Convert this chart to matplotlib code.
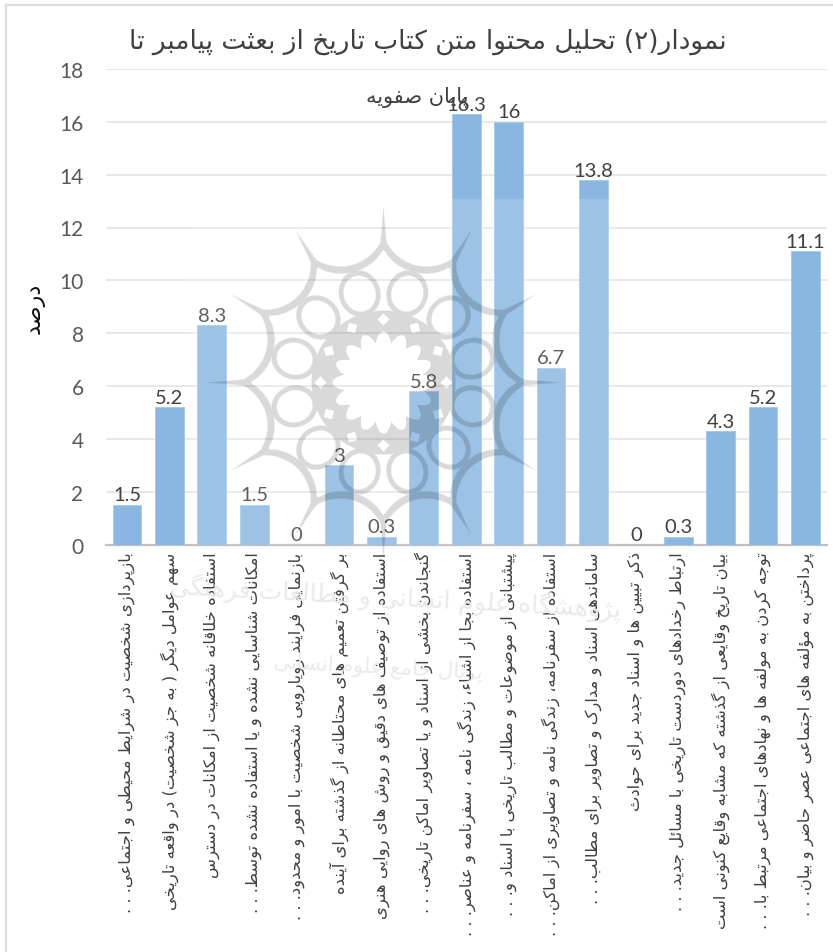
import unicodedata
import numpy as np
import matplotlib
matplotlib.use('Agg')
import matplotlib.pyplot as plt
from matplotlib.patches import Rectangle

plt.rcParams['font.family'] = ['Lato', 'DejaVu Sans']

W, H = 833, 953

title_line1 = 'نمودار(۲) تحلیل محتوا متن کتاب تاریخ از بعثت پیامبر تا'
title_line2 = 'پایان صفویه'
y_title = 'درصد'

categories = [
    'بازپردازی شخصیت در شرایط محیطی و اجتماعی. . .',
    'سهم عوامل دیگر ( به جز شخصیت) در واقعه تاریخی',
    'استفاده خلاقانه شخصیت از امکانات در دسترس',
    'امکانات شناسایی نشده و یا استفاده نشده توسط. . .',
    'بازنمایی فرایند رویارویی شخصیت با امور و محدود. . .',
    'بر گرفتن تعمیم های محتاطانه از گذشته برای آینده',
    'استفاده از توصیف های دقیق و روش های روایی هنری',
    'گنجاندن بخشی از اسناد و یا تصاویر اماکن تاریخی. . .',
    'استفاده بجا از اشیاء، زندگی نامه ، سفرنامه و عناصر. . .',
    'پیشتبانی از موضوعات و مطالب تاریخی با اسناد و. . .',
    'استفاده از سفرنامه، زندگی نامه و تصاویری از اماکن. . .',
    'ساماندهی اسناد و مدارک و تصاویر برای مطالب. . .',
    'ذکر تبیین ها و اسناد جدید برای حوادث',
    'ارتباط رخدادهای دوردست تاریخی با مسائل جدید. . .',
    'بیان تاریخ وقایعی از گذشته که مشابه وقایع کنونی است',
    'توجه کردن به مولفه ها و نهادهای اجتماعی مرتبط با. . .',
    'پرداختن به مؤلفه های اجتماعی عصر حاضر و بیان. . .',
]
values = [1.5, 5.2, 8.3, 1.5, 0, 3, 0.3, 5.8, 16.3, 16, 6.7, 13.8, 0, 0.3, 4.3, 5.2, 11.1]
y_ticks = [0, 2, 4, 6, 8, 10, 12, 14, 16, 18]

watermark_1 = 'پژوهشگاه علوم انسانی و مطالعات فرهنگی'
watermark_2 = 'پرتال جامع علوم انسانی'

# matplotlib does no arabic shaping, so pick the joined forms by hand
RIGHT_ONLY = set('اآأإدذرزژوؤة')
NO_JOIN = set('ء')
MIRROR = {'(': ')', ')': '('}


def joins(ch):
    return unicodedata.category(ch) == 'Lo' and '\u0600' <= ch <= '\u06ff' and ch not in NO_JOIN


def form(ch, name):
    try:
        return unicodedata.lookup(unicodedata.name(ch) + ' ' + name + ' FORM')
    except KeyError:
        return ch


def shape(text):
    out = []
    for i, ch in enumerate(text):
        if not joins(ch):
            out.append(MIRROR.get(ch, ch))
            continue
        prev = text[i - 1] if i > 0 else ' '
        nxt = text[i + 1] if i < len(text) - 1 else ' '
        before = joins(prev) and prev not in RIGHT_ONLY
        after = joins(nxt) and ch not in RIGHT_ONLY
        if before and after:
            out.append(form(ch, 'MEDIAL'))
        elif before:
            out.append(form(ch, 'FINAL'))
        elif after:
            out.append(form(ch, 'INITIAL'))
        else:
            out.append(form(ch, 'ISOLATED'))
    return ''.join(reversed(out))


def soft(d):
    return np.clip(0.5 - d / 1.4, 0, 1)


# the rosette watermark, built as a mask in pixel space
def rosette():
    yy, xx = np.mgrid[0:H, 0:W]
    dx = xx - 383.0
    dy = 383.0 - yy
    r = np.hypot(dx, dy)
    th = np.degrees(np.arctan2(dy, dx)) % 360

    a = np.radians((th + 15) % 30 - 15)
    mid = np.radians(15) - np.abs(a)
    dist = np.hypot(r * np.cos(mid) - 163.7, r * np.sin(mid))
    hw = 3.6 * np.clip((175 - r) / 50, 0, 1)
    arc = soft(np.abs(dist - 45.7) - hw) * (r < 175)

    spike_w = 3 * np.clip((175 - r) / 35, 0, 1)
    spike = soft(r * np.abs(np.sin(a)) - spike_w) * (r > 132) * (r < 175)

    b = np.radians(th % 30 - 15)
    e = np.hypot((r * np.cos(b) - 92) / 18, r * np.sin(b) / 16)
    hole = soft((e - 1) * 17)
    ring = soft((e - 1.3) * 17)

    star = 40 + 11 * np.abs(np.cos(np.radians(th * 8)))
    disk = soft(star - r) * soft(r - 72)
    diamond = soft(np.abs(r * np.cos(a) - 63) + np.abs(r * np.sin(a)) - 6)

    mask = np.maximum.reduce([arc, spike, ring, disk * (1 - diamond)])
    return mask * (1 - hole)


fig = plt.figure(figsize=(W / 100, H / 100), dpi=100)
ax = fig.add_axes([105.8 / W, 1 - 545.5 / H, 720.8 / W, 475.5 / H])
ax.set_zorder(1)

x = np.arange(len(values))
bars = ax.bar(x, values, width=0.68, color='#8AB7E1', edgecolor='#A6CAEA', linewidth=0.7, zorder=3)
ax.bar_label(bars, fmt='%g', padding=1, fontsize=14.5, color='#404040')

ax.set_xlim(-0.5, len(values) - 0.5)
ax.set_ylim(0, 18)
ax.set_yticks(y_ticks)
ax.tick_params(axis='y', length=0, pad=16, labelsize=15, labelcolor='#595959')
ax.set_xticks(x, [shape(c) for c in categories], rotation=90, ha='center', va='top',
              fontsize=11.8, color='#404040', family='DejaVu Sans')
ax.tick_params(axis='x', length=0, pad=5)
ax.grid(axis='y', color='#E6E6E6', linewidth=1.3, zorder=0)
ax.set_axisbelow(True)
for side in ['top', 'right', 'left']:
    ax.spines[side].set_visible(False)
ax.spines['bottom'].set_color('#BFBFBF')
ax.spines['bottom'].set_linewidth(1.6)

fig.text(35 / W, 1 - 308 / H, shape(y_title), rotation=90, ha='center', va='center',
         fontsize=16, color='#111111', family='DejaVu Sans')

top = fig.add_axes([0, 0, 1, 1], facecolor='none')
top.set_zorder(2)
top.set_xlim(0, W)
top.set_ylim(H, 0)
top.axis('off')

# pale haze of the pasted logo image, it sits over the bars
top.add_patch(Rectangle((190, 200), 425, 346, color='white', alpha=0.16, linewidth=0, zorder=1))
rgba = np.zeros((H, W, 4))
rgba[..., 3] = rosette() * 0.15
top.imshow(rgba, extent=(0, W, H, 0), aspect='auto', interpolation='bilinear', zorder=2)
top.set_xlim(0, W)
top.set_ylim(H, 0)

top.plot([6, 6], [6, H], color='#DDDDDD', linewidth=1.6, zorder=3)
top.plot([6, W], [6, 6], color='#DDDDDD', linewidth=1.6, zorder=3)

top.text(395, 598, shape(watermark_1), rotation=-3, ha='center', va='center', fontsize=18,
         color='#EAEAEA', family='DejaVu Sans', zorder=0)
top.text(378, 668, shape(watermark_2), rotation=-3, ha='center', va='center', fontsize=15,
         color='#EAEAEA', family='DejaVu Sans', zorder=0)

top.text(428, 42, shape(title_line1), ha='center', va='center', fontsize=19,
         color='#404040', family='DejaVu Sans', zorder=4)
top.text(417, 97, shape(title_line2), ha='center', va='center', fontsize=15,
         color='#404040', family='DejaVu Sans', zorder=4)

fig.savefig('out.png', dpi=100)
